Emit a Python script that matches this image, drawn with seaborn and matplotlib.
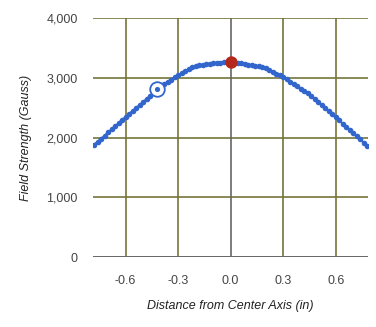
import seaborn as sns
import matplotlib.pyplot as plt
import numpy as np
import pandas as pd

# distance from center axis (in), 0.02 steps
distance = np.round(np.arange(-0.78, 0.7801, 0.02), 2)

# field strength (gauss)
field = [
    1880, 1930, 1980, 2030, 2085, 2135, 2190, 2240, 2295, 2345,
    2395, 2445, 2495, 2545, 2595, 2645, 2700, 2750, 2805, 2850,
    2895, 2935, 2970, 3005, 3040, 3075, 3110, 3145, 3175, 3195,
    3210, 3220, 3230, 3238, 3245, 3250, 3255, 3260, 3263, 3265,
    3255, 3248, 3240, 3230, 3220, 3210, 3200, 3190, 3175, 3155,
    3130, 3100, 3070, 3040, 3010, 2972, 2934, 2896, 2858, 2818,
    2778, 2740, 2690, 2640, 2590, 2540, 2490, 2440, 2390, 2340,
    2287, 2234, 2181, 2128, 2075, 2022, 1969, 1916, 1863,
]

x_ticks = [-0.6, -0.3, 0.0, 0.3, 0.6]
x_tick_labels = ["-0.6", "-0.3", "0.0", "0.3", "0.6"]
y_ticks = [0, 1000, 2000, 3000, 4000]
y_tick_labels = ["0", "1,000", "2,000", "3,000", "4,000"]

peak_x = 0.0
selected_x = -0.42

df = pd.DataFrame({"distance": distance, "field": field})

sns.set_style("white")
plt.rcParams["font.family"] = ["Liberation Sans", "DejaVu Sans"]

fig = plt.figure(figsize=(3.76, 3.27), dpi=100)
ax = fig.add_axes([0.247, 0.214, 0.732, 0.731])

blue = "#3366cc"
grid_col = "#75753a"

# grid
for yt in y_ticks[1:]:
    ax.axhline(yt, color=grid_col, lw=1.2, zorder=1)
for xt in x_ticks:
    ax.axvline(xt, color="#666666" if xt == 0 else grid_col, lw=1.2, zorder=1)
ax.axhline(0, color="#666666", lw=1.4, zorder=1)

sns.lineplot(data=df, x="distance", y="field", ax=ax, color=blue, lw=1.5,
             marker="o", markersize=4, markeredgewidth=0, zorder=3)

pk = df[df["distance"] == peak_x]
ax.scatter(pk["distance"], pk["field"], s=80, color="#b5271b", zorder=5, linewidths=0)

sel = df[np.isclose(df["distance"], selected_x)]
ax.scatter(sel["distance"], sel["field"], s=110, facecolor="white",
           edgecolor=blue, linewidths=1.3, zorder=5)
ax.scatter(sel["distance"], sel["field"], s=14, color=blue, linewidths=0, zorder=6)

ax.set_xlim(-0.787, 0.785)
ax.set_ylim(0, 4000)
ax.set_xticks(x_ticks)
ax.set_xticklabels(x_tick_labels)
ax.set_yticks(y_ticks)
ax.set_yticklabels(y_tick_labels)
ax.tick_params(axis="both", length=0, labelsize=9, colors="#444444")
ax.tick_params(axis="y", pad=11)
ax.tick_params(axis="x", pad=13)

for s in ax.spines.values():
    s.set_visible(False)

ax.set_xlabel("Distance from Center Axis (in)", fontsize=9, style="italic",
              color="#222222", labelpad=9)
ax.set_ylabel("Field Strength (Gauss)", fontsize=9, style="italic",
              color="#222222", labelpad=10)

fig.savefig("out.png", dpi=100)
